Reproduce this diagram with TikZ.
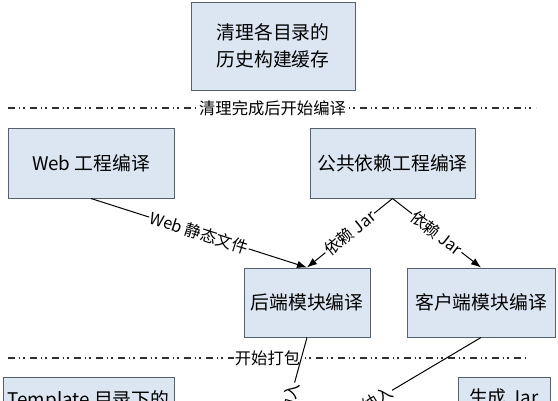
\documentclass[tikz,border=0pt]{standalone}
\usepackage{fontspec}
\setmainfont{Noto Sans CJK SC}
\usetikzlibrary{arrows.meta}
\definecolor{boxfill}{HTML}{DCE6F2}
\definecolor{boxline}{HTML}{56616E}
\definecolor{sepline}{HTML}{303030}
\tikzset{
  box/.style={draw=boxline, line width=1pt, fill=boxfill, inner sep=0pt,
    font=\fontsize{18.8}{27}\selectfont, align=center},
  txt/.style={inner sep=0pt, font=\fontsize{18.8}{27}\selectfont},
  sep/.style={draw=sepline, line width=1.2pt, dash pattern=on 6.5pt off 4pt on 1.3pt off 3.5pt on 1.3pt off 5.4pt},
  seplabel/.style={fill=white, inner sep=1pt, font=\fontsize{16.3}{18}\selectfont},
  conn/.style={draw=black, line width=1pt, -{Latex[length=10pt,width=7.5pt]}},
  elabel/.style={fill=white, inner sep=1pt, sloped, midway, font=\fontsize{16.3}{18}\selectfont}
}
\begin{document}
\begin{tikzpicture}[x=1pt,y=-1pt]
\useasboundingbox (0,0) rectangle (558,400);
\clip (0,0) rectangle (558,400);
% boxes
\node[box, minimum width=164pt, minimum height=88pt] (top) at (273,46) {清理各目录的\\历史构建缓存};
\node[box, minimum width=166pt, minimum height=70pt] (web) at (91,163) {Web 工程编译};
\node[box, minimum width=165pt, minimum height=70pt] (pub) at (392.5,163) {公共依赖工程编译};
\node[box, minimum width=126pt, minimum height=69pt] (be) at (307,302.5) {后端模块编译};
\node[box, minimum width=148pt, minimum height=69pt] (cl) at (481,302.5) {客户端模块编译};
\node[box, minimum width=171pt, minimum height=80pt] (tpl) at (88.5,417) {};
\node[txt] (tpltext) at (88.5,401) {Template 目录下的};
\node[box, minimum width=92pt, minimum height=80pt] (jar) at (504,417) {};
\node[txt] (jartext) at (504,397) {生成 Jar};
% separators
\coordinate (s1l) at (8,108);
\coordinate (s1r) at (536,108);
\draw[sep] (s1l) -- (s1r);
\node[seplabel] (s1t) at (272.5,108) {清理完成后开始编译};
\coordinate (s2l) at (8,358);
\coordinate (s2r) at (525,358);
\draw[sep] (s2l) -- (s2r);
\node[seplabel] (s2t) at (267.5,358) {开始打包};
% connectors
\coordinate (tgt) at (273,461);
\draw[conn] (web.south) -- node[elabel] {Web 静态文件} (be.north);
\draw[conn] (pub.south) -- node[elabel] {依赖 Jar} (be.north);
\draw[conn] (pub.south) -- node[elabel] {依赖 Jar} (cl.north);
\draw[conn] (be.south) -- node[elabel] {纳入} (tgt);
\draw[conn] (cl.south) -- node[elabel] {纳入} (tgt);
\end{tikzpicture}
\end{document}
